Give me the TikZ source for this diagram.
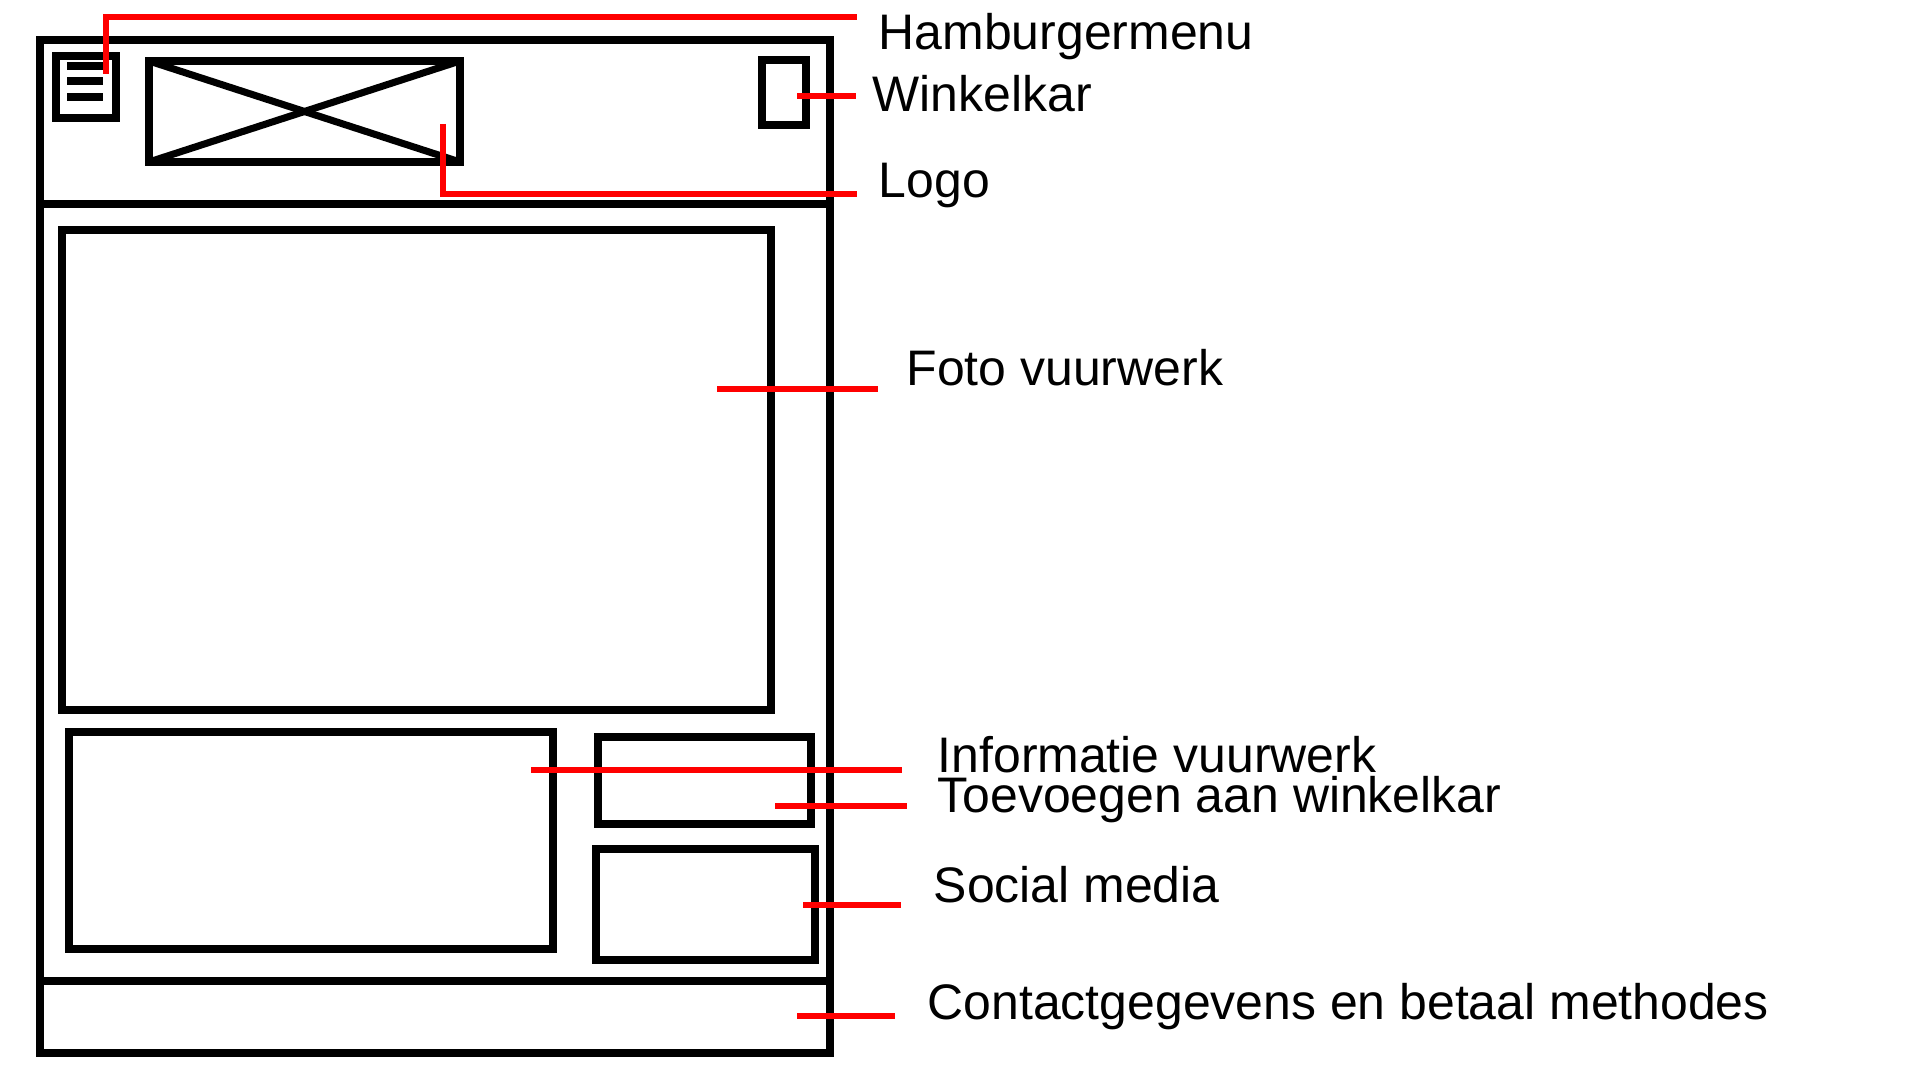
\documentclass[tikz,border=0pt]{standalone}
\usepackage{fontspec}
\setmainfont{Liberation Sans}
\usetikzlibrary{fit}
\begin{document}
\begin{tikzpicture}[x=0.01cm,y=-0.01cm,
  box/.style={draw=black,line width=2pt,inner sep=0pt,outer sep=0pt},
  blk/.style={draw=black,line width=2pt},
  lead/.style={draw=red,line width=1.85pt},
  lbl/.style={anchor=base west,inner sep=0pt,font=\fontsize{14.2pt}{17pt}\selectfont}]
\useasboundingbox[fill=white] (0,0) rectangle (1920,1080);
% boxes
\node[box,fit={(40,40) (830,1053)}] (frame) {};
\node[box,fit={(56,56) (116,118)}] (ham) {};
\node[box,fit={(149,61) (460,162)}] (logo) {};
\node[box,fit={(762,60) (806,125)}] (cart) {};
\node[box,fit={(62,230) (771,710)}] (foto) {};
\node[box,fit={(69,732) (553,949)}] (info) {};
\node[box,fit={(598,737) (811,824)}] (add) {};
\node[box,fit={(596,849) (815,960)}] (social) {};
% header / footer separators
\coordinate (hl) at (40,204); \coordinate (hr) at (830,204);
\coordinate (fl) at (40,981); \coordinate (fr) at (830,981);
\draw[blk] (hl) -- (hr);
\draw[blk] (fl) -- (fr);
% hamburger lines
\coordinate (h1a) at (67,66); \coordinate (h1b) at (103,66);
\coordinate (h2a) at (67,81); \coordinate (h2b) at (103,81);
\coordinate (h3a) at (67,97); \coordinate (h3b) at (103,97);
\draw[blk] (h1a) -- (h1b);
\draw[blk] (h2a) -- (h2b);
\draw[blk] (h3a) -- (h3b);
% logo cross
\draw[blk] (logo.north west) -- (logo.south east);
\draw[blk] (logo.south west) -- (logo.north east);
% labels
\node[lbl] (tham) at (878,50) {Hamburgermenu};
\node[lbl] (tcart) at (872,112) {Winkelkar};
\node[lbl] (tlogo) at (878,198) {Logo};
\node[lbl] (tfoto) at (906,386) {Foto vuurwerk};
\node[lbl] (tinfo) at (937,773) {Informatie vuurwerk};
\node[lbl] (tadd) at (937,813) {Toevoegen aan winkelkar};
\node[lbl] (tsoc) at (933,903) {Social media};
\node[lbl] (tcon) at (927,1020) {Contactgegevens en betaal methodes};
% leader lines
\coordinate (ham0) at (106,74); \coordinate (ham1) at (106,17); \coordinate (ham2) at (857,17);
\draw[lead] (ham0) -- (ham1) -- (ham2);
\coordinate (cart0) at (797,96); \coordinate (cart1) at (856,96);
\draw[lead] (cart0) -- (cart1);
\coordinate (logo0) at (443,124); \coordinate (logo1) at (443,194); \coordinate (logo2) at (857,194);
\draw[lead] (logo0) -- (logo1) -- (logo2);
\coordinate (foto0) at (717,389); \coordinate (foto1) at (878,389);
\draw[lead] (foto0) -- (foto1);
\coordinate (info0) at (531,770); \coordinate (info1) at (902,770);
\draw[lead] (info0) -- (info1);
\coordinate (add0) at (775,806); \coordinate (add1) at (907,806);
\draw[lead] (add0) -- (add1);
\coordinate (soc0) at (803,905); \coordinate (soc1) at (901,905);
\draw[lead] (soc0) -- (soc1);
\coordinate (con0) at (797,1016); \coordinate (con1) at (895,1016);
\draw[lead] (con0) -- (con1);
\end{tikzpicture}
\end{document}
